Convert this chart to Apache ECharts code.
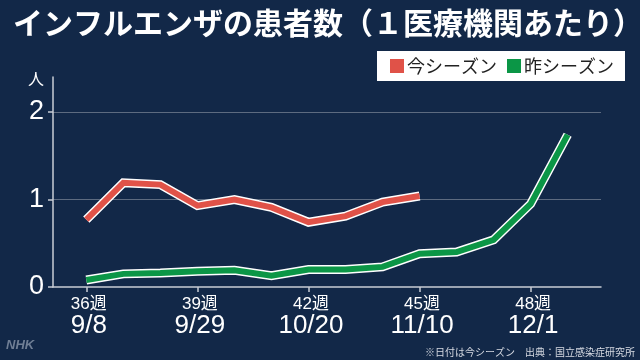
<!DOCTYPE html>
<html><head><meta charset="utf-8">
<script src="https://cdn.jsdelivr.net/npm/echarts@6/dist/echarts.min.js"></script>
<style>html,body{margin:0;padding:0;background:#122848;}#c{width:640px;height:360px;}</style>
</head><body><div id="c"></div>
<script>
const weeks = [36,37,38,39,40,41,42,43,44,45,46,47,48,49];
const thisSeason = [0.77,1.19,1.17,0.93,1.00,0.91,0.74,0.81,0.97,1.04];
const lastSeason = [0.08,0.15,0.16,0.18,0.19,0.13,0.20,0.20,0.23,0.38,0.40,0.54,0.95,1.74];
const tickWeeks = [36,39,42,45,48];
const tickWeekLabels = ['36週','39週','42週','45週','48週'];
const tickDateLabels = ['9/8','9/29','10/20','11/10','12/1'];
const yTicks = [0,1,2];
const seriesNames = ['今シーズン','昨シーズン'];
const titleText = 'インフルエンザの患者数（１医療機関あたり）';
const footText = '※日付は今シーズン　出典：国立感染症研究所';

const RED = '#e05248', GREEN = '#0b9646';
const FONT = '"Liberation Sans", "Noto Sans CJK JP", sans-serif';
const pairs = arr => arr.map((v,i)=>[weeks[i], v]);

const chart = echarts.init(document.getElementById('c'), null, {renderer:'canvas'});
chart.setOption({
  backgroundColor: '#122848',
  animation: false,
  textStyle: {fontFamily: FONT},
  title: {
    text: titleText, left: 8, top: 3,
    textStyle: {color:'#ffffff', fontSize: 30, fontWeight:'bold', fontFamily:'"Noto Sans CJK JP", sans-serif'}
  },
  legend: {
    data: seriesNames, left: 377, top: 51,
    backgroundColor: '#ffffff', borderRadius: 0,
    padding: [6, 11, 6, 13], itemGap: 10, itemWidth: 14, itemHeight: 14,
    icon: 'rect',
    textStyle: {color:'#222222', fontSize: 18, fontFamily:'"Noto Sans CJK JP", sans-serif', padding:[0,0,0,-2]}
  },
  grid: {left: 53, right: 39, top: 77, bottom: 73},
  xAxis: {
    type: 'value', min: 35.1, max: 49.9,
    axisLine: {show:true, lineStyle:{color:'#c8ccd4', width:1.5}},
    axisTick: {show:true, length:5, customValues: tickWeeks, lineStyle:{color:'#c8ccd4', width:1.5}},
    splitLine: {show:false},
    axisLabel: {
      customValues: tickWeeks, margin: 9, color:'#ffffff',
      formatter: v => { const i = tickWeeks.indexOf(Math.round(v)); return i<0 ? '' : '{w|'+tickWeekLabels[i]+'}\n{d|'+tickDateLabels[i]+'}'; },
      rich: {
        w: {fontSize:17, lineHeight:17, color:'#ffffff', fontFamily:FONT, padding:[0,0,0,5]},
        d: {fontSize:26, lineHeight:26, color:'#ffffff', fontFamily:FONT, padding:[0,0,0,5]}
      }
    }
  },
  yAxis: {
    type: 'value', min: 0, max: 2.4, interval: 1,
    name: '人', nameLocation: 'end', nameGap: -2,
    nameTextStyle: {color:'#ffffff', fontSize:16, align:'right', verticalAlign:'middle', padding:[0,9,0,0], fontFamily:'"Noto Sans CJK JP", sans-serif'},
    axisLine: {show:true, lineStyle:{color:'#c8ccd4', width:1.5}},
    axisTick: {show:true, length:5, customValues: yTicks, lineStyle:{color:'#c8ccd4', width:1.5}},
    splitLine: {show:true, lineStyle:{color:['rgba(0,0,0,0)','#5d6b80','#5d6b80','rgba(0,0,0,0)'], width:1}},
    axisLabel: {customValues: yTicks, margin: 9, color:'#ffffff', fontSize: 27, fontFamily: FONT,
      formatter: v => (yTicks.indexOf(v) >= 0 ? String(v) : '')}
  },
  series: [
    {name:'昨シーズン縁', type:'line', data: pairs(lastSeason), symbol:'none', silent:true, z:1,
     lineStyle:{color:'#ffffff', width:9, cap:'butt', join:'miter'}, itemStyle:{color:'#ffffff'}},
    {name:seriesNames[1], type:'line', data: pairs(lastSeason), symbol:'none', z:2,
     lineStyle:{color:GREEN, width:6, cap:'butt', join:'miter'}, itemStyle:{color:GREEN}},
    {name:'今シーズン縁', type:'line', data: pairs(thisSeason), symbol:'none', silent:true, z:3,
     lineStyle:{color:'#ffffff', width:9, cap:'butt', join:'miter'}, itemStyle:{color:'#ffffff'}},
    {name:seriesNames[0], type:'line', data: pairs(thisSeason), symbol:'none', z:4,
     lineStyle:{color:RED, width:6, cap:'butt', join:'miter'}, itemStyle:{color:RED}}
  ],
  graphic: [
    {type:'text', left: 6, top: 339, style:{text:'NHK', fill:'#6f7e94', font:'italic bold 13px "Liberation Sans", sans-serif'}},
    {type:'text', right: 5, top: 347, style:{text: footText, fill:'#d6dae2', font:'10px "Noto Sans CJK JP", sans-serif'}}
  ]
});
</script></body></html>
